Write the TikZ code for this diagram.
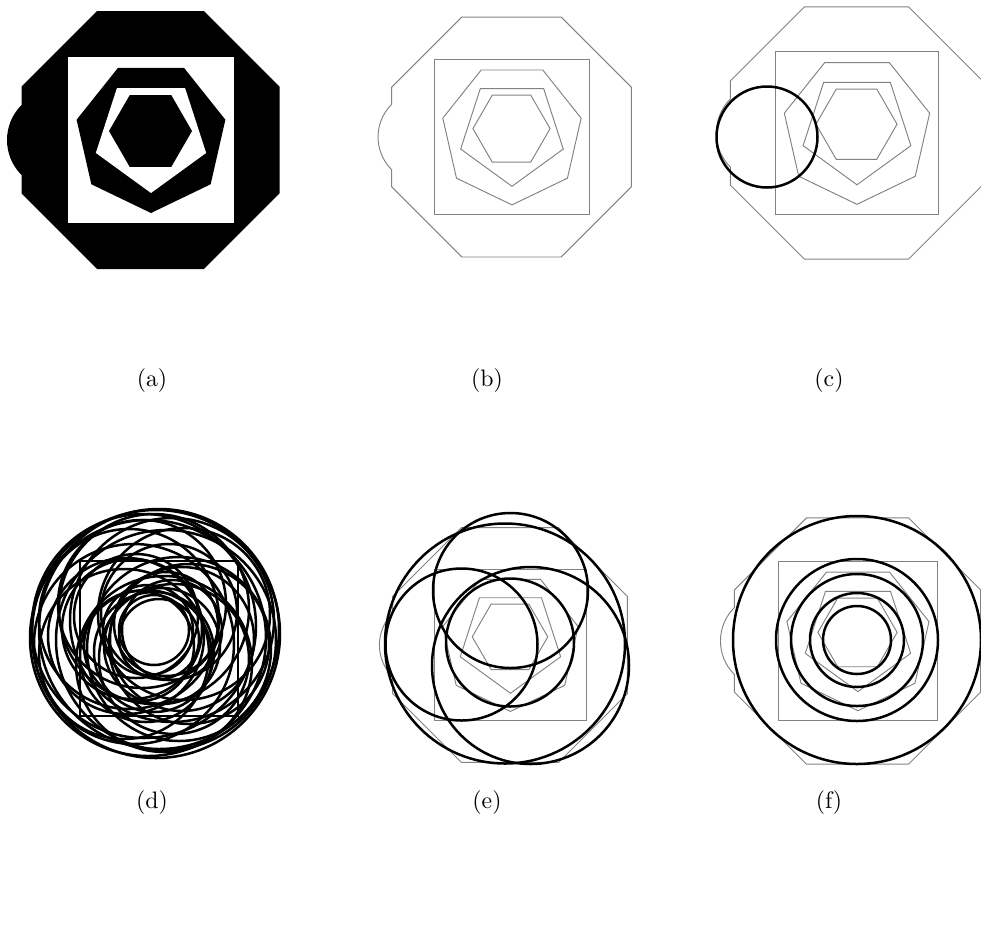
\documentclass[tikz,border=0pt]{standalone}
\usepackage{tikz}
\definecolor{ink}{RGB}{0,0,0}
\definecolor{soft}{RGB}{130,130,130}
\tikzset{
  outline/.style={draw=soft, line width=0.4pt},
  ring/.style={draw=ink, line width=1.05pt},
  sublbl/.style={font=\normalsize, inner sep=0pt},
  % octagon with a bump, square, heptagon, pentagon, hexagon
  board/.pic={
    \draw[outline] (-53.4,-129) -- (53.4,-129) -- (129,-53.4) -- (129,53.4) -- (53.4,129) -- (-53.4,129) -- (-129,53.4) -- (-129,35) arc[start angle=135, end angle=225, radius=49.5] -- (-129,-53.4) -- cycle;
    \draw[outline] (-82.5,-83) rectangle (83.5,83);
    \draw[outline, shift={(0.5,-3.3)}] (90:76.3) foreach \k in {1,...,6} {-- ({90+\k*360/7}:76.3)} -- cycle;
    \draw[outline, shift={(0.5,-5)}] (90:58) foreach \k in {1,...,4} {-- ({90+\k*72}:58)} -- cycle;
    \draw[outline, shift={(0,-9)}] (0:41.5) foreach \k in {1,...,5} {-- ({\k*60}:41.5)} -- cycle;
  },
  solidboard/.pic={
    \fill[ink] (-53.4,-129) -- (53.4,-129) -- (129,-53.4) -- (129,53.4) -- (53.4,129) -- (-53.4,129) -- (-129,53.4) -- (-129,35) arc[start angle=135, end angle=225, radius=49.5] -- (-129,-53.4) -- cycle;
    \fill[white] (-82.5,-83) rectangle (83.5,83);
    \fill[ink, shift={(0.5,-3.3)}] (90:76.3) foreach \k in {1,...,6} {-- ({90+\k*360/7}:76.3)} -- cycle;
    \fill[white, shift={(0.5,-5)}] (90:58) foreach \k in {1,...,4} {-- ({90+\k*72}:58)} -- cycle;
    \fill[ink, shift={(0,-9)}] (0:41.5) foreach \k in {1,...,5} {-- ({\k*60}:41.5)} -- cycle;
  },
}

\begin{document}
\begin{tikzpicture}[x=0.42pt, y=-0.42pt]
  \useasboundingbox (0,0) rectangle (981,931);
  % top row
  \pic at (150.5,140) {solidboard};
  \pic[scale=0.93] at (511.5,137) {board};
  \pic[scale=0.977] at (856.5,133) {board};
  \draw[ring] (767,137) circle[radius=50.5];
  \node[sublbl] (lbl-a) at (152,381) {(a)};
  \node[sublbl] (lbl-b) at (487,381) {(b)};
  \node[sublbl] (lbl-c) at (829,381) {(c)};
  % bottom row
  \begin{scope}
    \draw[ring] (80,561) rectangle (238,716);
    \begin{scope}[shift={(154,634)}]
      \foreach \dx/\dy/\r in {2/0/124, -6/4/118, 5/-5/120, -10/-8/112, 12/6/110, -20/10/100,
          18/-14/102, 0/-25/95, -25/-15/90, 25/15/92, -30/20/85, 30/-20/86, 10/30/88,
          -12/-30/84, 20/25/75, -22/-5/70, 15/-22/68, -8/22/66, 28/5/72, -15/12/55,
          12/-10/52, 0/18/60, -18/-18/62, 18/-4/50, 5/5/40, -6/-4/45, 8/12/58,
          -28/2/78, 0/-4/35, 35/10/80}
        \draw[ring] (\dx,\dy) circle[radius=\r];
    \end{scope}
  \end{scope}
  \begin{scope}
    \pic[scale=0.91] at (510,645) {board};
    \foreach \cx/\cy/\r in {510.5/590.5/77.5, 461.5/644.5/76, 505/643.5/120, 530.5/665.5/98.5, 510/642.5/64}
      \draw[ring] (\cx,\cy) circle[radius=\r];
  \end{scope}
  \begin{scope}
    \pic[scale=0.955] at (857.5,641) {board};
    \foreach \r in {124,81,66,47,34}
      \draw[ring] (857,640) circle[radius=\r];
  \end{scope}
  \node[sublbl] (lbl-d) at (152,803) {(d)};
  \node[sublbl] (lbl-e) at (487,803) {(e)};
  \node[sublbl] (lbl-f) at (829,803) {(f)};
\end{tikzpicture}
\end{document}
